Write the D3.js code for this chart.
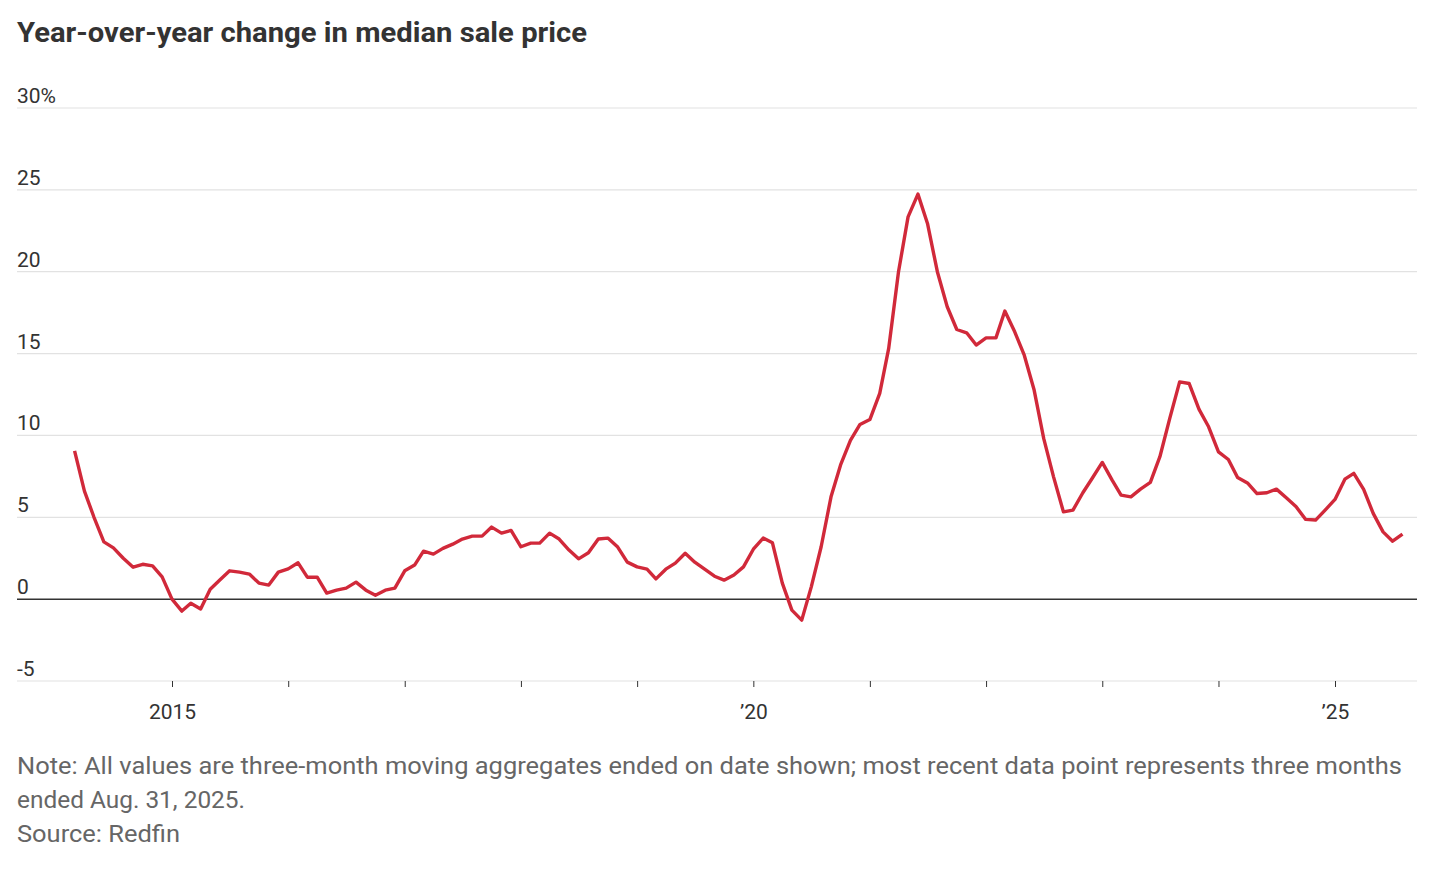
<!DOCTYPE html>
<html><head><meta charset="utf-8">
<script src="https://cdn.jsdelivr.net/npm/d3@7"></script>
<style>body{margin:0;background:#fff;font-family:Roboto,"Noto Sans",sans-serif;}</style>
</head><body><svg id="c" width="1434" height="878"></svg>
<script>
const startYear = 2014, startMonth = 2; // March 2014 (0-based month)
const values = [9.06,6.6,5.0,3.5,3.13,2.5,1.95,2.13,2.03,1.36,0,-0.73,-0.25,-0.6,0.6,1.18,1.73,1.65,1.53,0.98,0.86,1.65,1.85,2.22,1.34,1.34,0.37,0.55,0.67,1.04,0.55,0.24,0.55,0.67,1.73,2.08,2.93,2.75,
3.1,3.36,3.67,3.85,3.85,4.4,4.03,4.2,3.2,3.42,3.42,4.03,3.67,3.0,2.46,2.83,3.67,3.73,3.18,2.26,1.97,1.83,1.24,1.83,2.2,2.8,2.26,1.83,1.4,1.16,1.47,1.97,3.05,3.73,3.44,0.98,-0.67,-1.28,0.75,3.2,
6.25,8.2,9.7,10.67,10.97,12.57,15.3,20.0,23.35,24.74,22.95,20.0,17.86,16.47,16.27,15.52,15.96,15.96,17.6,16.33,14.9,12.77,9.82,7.47,5.33,5.44,6.5,7.4,
8.35,7.27,6.35,6.25,6.72,7.13,8.7,11.04,13.27,13.17,11.59,10.53,9.0,8.53,7.43,7.1,6.45,6.5,6.72,6.19,5.64,4.87,4.83,5.44,6.09,7.33,7.68,6.7,5.24,4.11,3.54,3.97];
const yTicks = [-5,0,5,10,15,20,25,30];
const yTickLabels = ["-5","0","5","10","15","20","25","30%"];
const xTickYears = [2015,2016,2017,2018,2019,2020,2021,2022,2023,2024,2025];
const xTickLabels = {2015:"2015",2020:"\u201920",2025:"\u201925"};

const data = values.map((v,i)=>({d:new Date(startYear, startMonth+i, 1), v}));
const svg = d3.select("#c");
const x = d3.scaleTime().domain([new Date(2015,0,1), new Date(2025,0,1)]).range([172,1335]);
const y = d3.scaleLinear().domain([-5,30]).range([681,108]);

svg.append("text").attr("x",17).attr("y",42).attr("font-size",28).attr("font-weight",700)
  .attr("fill","#333").attr("textLength",570).attr("lengthAdjust","spacingAndGlyphs")
  .text("Year-over-year change in median sale price");

const g = svg.append("g");
yTicks.forEach((t,i)=>{
  g.append("line").attr("x1",17).attr("x2",1417).attr("y1",y(t)).attr("y2",y(t))
   .attr("stroke", t===0?"#333":"#e2e2e2").attr("stroke-width", t===0?1.5:1.2);
  g.append("text").attr("x",17).attr("y",y(t)-5).attr("font-size",21).attr("fill","#333").text(yTickLabels[i]);
});
const xa = d3.axisBottom(x).tickValues(xTickYears.map(yr=>new Date(yr,0,1)))
  .tickSize(6).tickFormat(d=>xTickLabels[d.getFullYear()]||"");
const ax = svg.append("g").attr("transform","translate(0,681)").call(xa);
ax.select(".domain").remove();
ax.selectAll("line").attr("stroke","#333");
ax.selectAll("text").attr("font-size",21).attr("fill","#333").attr("dy","1.4em").attr("font-family","Roboto,sans-serif");

svg.append("path").datum(data).attr("fill","none").attr("stroke","#d1293a").attr("stroke-width",3.4)
  .attr("stroke-linejoin","round")
  .attr("d", d3.line().x(d=>x(d.d)).y(d=>y(d.v)));

const note = ["Note: All values are three-month moving aggregates ended on date shown; most recent data point represents three months","ended Aug. 31, 2025.","Source: Redfin"];
const noteLen = [1385, 228, 163];
note.forEach((t,i)=>svg.append("text").attr("x",17).attr("y",774+i*34).attr("font-size",23.5)
  .attr("fill","#666").attr("textLength",noteLen[i]).attr("lengthAdjust","spacingAndGlyphs").text(t));
</script></body></html>
